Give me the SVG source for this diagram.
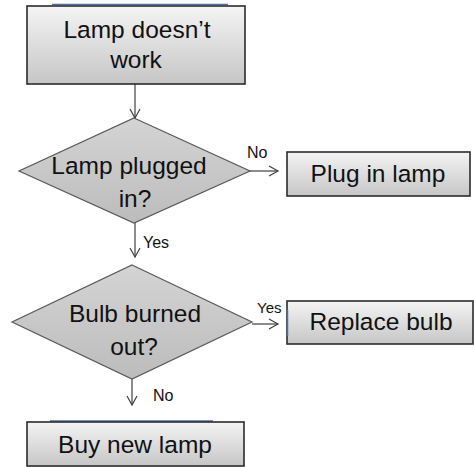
<svg xmlns="http://www.w3.org/2000/svg" width="474" height="467" viewBox="0 0 474 467">
<defs>
<linearGradient id="g" x1="0" y1="0" x2="0" y2="1">
<stop offset="0" stop-color="#f4f4f4"/>
<stop offset="1" stop-color="#c6c6c6"/>
</linearGradient>
<linearGradient id="gd" x1="0" y1="0" x2="0" y2="1">
<stop offset="0" stop-color="#d4d4d4"/>
<stop offset="1" stop-color="#bcbcbc"/>
</linearGradient>
<marker id="arr" markerWidth="12" markerHeight="12" refX="10" refY="6" orient="auto" markerUnits="userSpaceOnUse">
<path d="M1,1 L10,6 L1,11" fill="none" stroke="#404040" stroke-width="1.2"/>
</marker>
</defs>
<style>
.box{fill:url(#g);stroke:#2b2b2b;stroke-width:1.6}
.dia{fill:url(#gd);stroke:#595959;stroke-width:1.2}
.t{font-family:"Liberation Sans",Arial,sans-serif;font-size:24.5px;fill:#111;text-anchor:middle}
.l{font-family:"Liberation Sans",Arial,sans-serif;font-size:16px;fill:#111}
.c{stroke:#404040;stroke-width:1.2;fill:none;marker-end:url(#arr)}
.blue{stroke:#4a6ea8;stroke-width:1.5}
</style>
<g id="connectors">
<line class="c" x1="135" y1="84" x2="135" y2="118"/>
<line class="c" x1="250" y1="171" x2="278" y2="171"/>
<text class="l" x="247" y="158">No</text>
<line class="c" x1="135" y1="223" x2="135" y2="257"/>
<text class="l" x="143" y="248">Yes</text>
<line class="c" x1="252" y1="324" x2="278" y2="324"/>
<text class="l" x="257" y="313" style="font-size:15px">Yes</text>
<line class="c" x1="132" y1="379" x2="132" y2="405"/>
<text class="l" x="153" y="401">No</text>
</g>
<g id="n1">
<line class="blue" x1="52" y1="4.5" x2="228" y2="4.5"/>
<rect class="box" x="27" y="6" width="218" height="78"/>
<text class="t" x="137" y="38">Lamp doesn’t</text>
<text class="t" x="136" y="68">work</text>
</g>
<g id="n2">
<polygon class="dia" points="134,118 250,171 134,223 19,171"/>
<text class="t" x="129" y="174">Lamp plugged</text>
<text class="t" x="135" y="207">in?</text>
</g>
<g id="n3">
<rect class="box" x="287" y="152" width="183" height="44"/>
<text class="t" x="378" y="182">Plug in lamp</text>
</g>
<g id="n4">
<polygon class="dia" points="132,265 252,322 132,379 12,322"/>
<text class="t" x="135" y="322">Bulb burned</text>
<text class="t" x="134" y="355">out?</text>
</g>
<g id="n5">
<rect class="box" x="287" y="301" width="186" height="43"/>
<line class="blue" x1="287.5" y1="310" x2="287.5" y2="336"/>
<text class="t" x="381" y="330">Replace bulb</text>
</g>
<g id="n6">
<line class="blue" x1="50" y1="421" x2="213" y2="421"/>
<rect class="box" x="27" y="422" width="217" height="44"/>
<text class="t" x="135" y="453">Buy new lamp</text>
</g>
</svg>
